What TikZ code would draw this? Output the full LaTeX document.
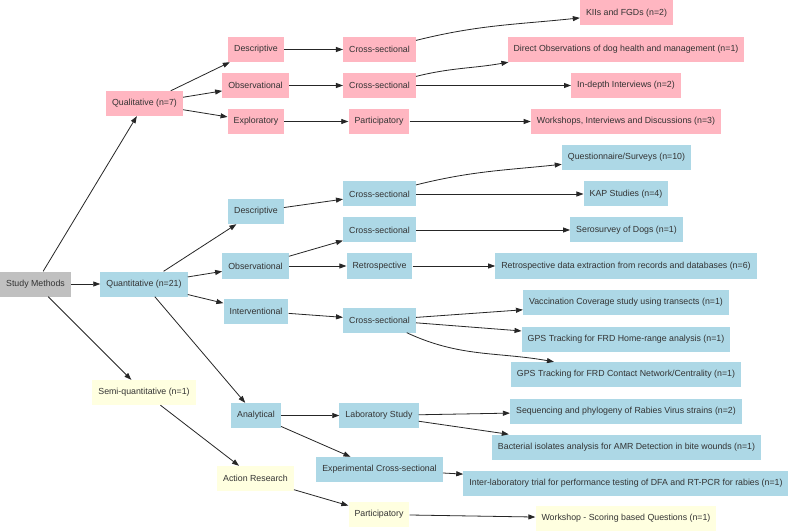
\documentclass[tikz,border=0pt]{standalone}
\usepackage{fontspec}
\setmainfont{Liberation Sans}
\usetikzlibrary{arrows.meta}
\definecolor{pinkc}{HTML}{FFB6C1}
\definecolor{bluec}{HTML}{ADD8E6}
\definecolor{yelc}{HTML}{FFFFE0}
\definecolor{grayc}{HTML}{C0C0C0}
\definecolor{txt}{HTML}{333333}
\begin{document}
\begin{tikzpicture}[x=1pt,y=1pt,
  box/.style={rectangle, inner xsep=6pt, inner ysep=0pt, minimum height=25pt,
    font=\fontsize{8.8}{10}\selectfont, text=txt},
  pk/.style={box, fill=pinkc},
  bl/.style={box, fill=bluec},
  yl/.style={box, fill=yelc},
  gr/.style={box, fill=grayc},
  arr/.style={-{Triangle[length=7pt,width=5pt]}, line width=0.8pt, draw=black!85}]
\fill[white] (0,0) rectangle (788,-532);
\useasboundingbox (0,0) rectangle (788,-532);
% root and level 1
\node[gr] (sm) at (35.5,-284) {Study Methods};
\node[pk] (ql) at (144.5,-103.5) {Qualitative (n=7)};
\node[bl] (qn) at (144,-284) {Quantitative (n=21)};
\node[yl] (sq) at (144,-392.5) {Semi-quantitative (n=1)};
% qualitative branch
\node[pk] (qld) at (256,-49.5) {Descriptive};
\node[pk] (qlo) at (255.5,-85.5) {Observational};
\node[pk] (qle) at (256,-121.5) {Exploratory};
\node[pk] (qldc) at (379.5,-49.5) {Cross-sectional};
\node[pk] (qloc) at (379.5,-85.5) {Cross-sectional};
\node[pk] (qlep) at (379,-121.5) {Participatory};
\node[pk] (kii) at (626.5,-13) {KIIs and FGDs (n=2)};
\node[pk] (dob) at (626,-49.5) {Direct Observations of dog health and management (n=1)};
\node[pk] (idi) at (626,-85.5) {In-depth Interviews (n=2)};
\node[pk] (wid) at (626,-121.5) {Workshops, Interviews and Discussions (n=3)};
% quantitative branch
\node[bl] (qnd) at (256,-211.5) {Descriptive};
\node[bl] (qno) at (255.5,-266) {Observational};
\node[bl] (qni) at (256,-311) {Interventional};
\node[bl] (qna) at (256,-415.5) {Analytical};
\node[bl] (qndc) at (379.5,-194) {Cross-sectional};
\node[bl] (qnoc) at (379.5,-230) {Cross-sectional};
\node[bl] (qnor) at (379.5,-266) {Retrospective};
\node[bl] (qnic) at (379.5,-320) {Cross-sectional};
\node[bl] (qnal) at (379,-415.5) {Laboratory Study};
\node[bl] (qnae) at (379.5,-469.5) {Experimental Cross-sectional};
\node[bl] (qs) at (626.5,-157.5) {Questionnaire/Surveys (n=10)};
\node[bl] (kap) at (626,-194) {KAP Studies (n=4)};
\node[bl] (sero) at (626.5,-230) {Serosurvey of Dogs (n=1)};
\node[bl] (rde) at (626,-266) {Retrospective data extraction from records and databases (n=6)};
\node[bl] (vac) at (626,-302.5) {Vaccination Coverage study using transects (n=1)};
\node[bl] (gps1) at (626,-339) {GPS Tracking for FRD Home-range analysis (n=1)};
\node[bl] (gps2) at (626,-374.5) {GPS Tracking for FRD Contact Network/Centrality (n=1)};
\node[bl] (seq) at (626,-411) {Sequencing and phylogeny of Rabies Virus strains (n=2)};
\node[bl] (bac) at (626.5,-447) {Bacterial isolates analysis for AMR Detection in bite wounds (n=1)};
\node[bl] (ilt) at (626,-483) {Inter-laboratory trial for performance testing of DFA and RT-PCR for rabies (n=1)};
% semi-quantitative branch
\node[yl] (ar) at (255.5,-478.5) {Action Research};
\node[yl] (sqp) at (379,-514.5) {Participatory};
\node[yl] (wsq) at (626,-518.5) {Workshop - Scoring based Questions (n=1)};
% edges
\draw[arr] (sm) -- (ql);
\draw[arr] (sm) -- (qn);
\draw[arr] (sm) -- (sq);
\draw[arr] (ql) -- (qld);
\draw[arr] (ql) -- (qlo);
\draw[arr] (ql) -- (qle);
\draw[arr] (qld) -- (qldc);
\draw[arr] (qlo) -- (qloc);
\draw[arr] (qle) -- (qlep);
\draw[arr] (qldc) to[out=14,in=186] (kii);
\draw[arr] (qloc) to[out=14,in=190] ([xshift=1pt]dob.south west);
\draw[arr] (qloc) -- (idi);
\draw[arr] (qlep) -- (wid);
\draw[arr] (qn) -- (qnd);
\draw[arr] (qn) -- (qno);
\draw[arr] (qn) -- (qni);
\draw[arr] (qn) -- (qna);
\draw[arr] (qnd) -- (qndc);
\draw[arr] (qndc) to[out=14,in=186] (qs);
\draw[arr] (qndc) -- (kap);
\draw[arr] (qno) -- (qnoc);
\draw[arr] (qno) -- (qnor);
\draw[arr] (qnoc) -- (sero);
\draw[arr] (qnor) -- (rde);
\draw[arr] (qni) -- (qnic);
\draw[arr] (qnic) -- (vac);
\draw[arr] (qnic) -- (gps1);
\draw[arr] (qnic) to[out=-25,in=170] (gps2);
\draw[arr] (qna) -- (qnal);
\draw[arr] (qna) -- (qnae);
\draw[arr] (qnal) -- (seq);
\draw[arr] (qnal) -- ([xshift=17pt]bac.north west);
\draw[arr] (qnae) -- (ilt);
\draw[arr] (sq) -- (ar);
\draw[arr] (ar) -- (sqp);
\draw[arr] (sqp) -- (wsq);
\end{tikzpicture}
\end{document}
